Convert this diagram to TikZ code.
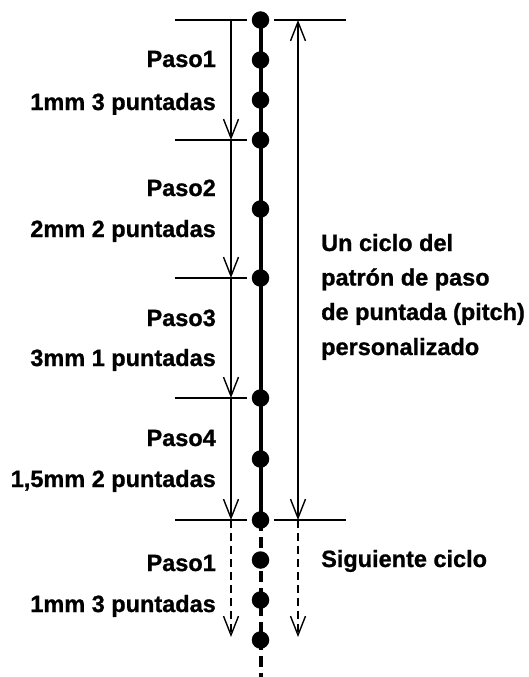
\documentclass[tikz,border=0pt]{standalone}
\usepackage{fontspec}
\setmainfont{Liberation Sans}
\newfontfamily\lblfont{Liberation Sans Bold}[FakeBold=1]
\usetikzlibrary{arrows.meta}
\begin{document}
\begin{tikzpicture}[x=1pt,y=-1pt,
  dot/.style={circle,fill=black,inner sep=0pt,minimum size=17.5pt},
  lbl/.style={font=\lblfont\fontsize{23.5}{28}\selectfont,inner sep=0pt},
  thinline/.style={line width=1.4pt},
  stem/.style={line width=4pt},
  tipend/.style={-{Straight Barb[length=19pt,width=15pt]}},
  tipboth/.style={{Straight Barb[length=19pt,width=15pt]}-{Straight Barb[length=19pt,width=15pt]}},
  thindash/.style={dash pattern=on 8pt off 5pt},
  stemdash/.style={dash pattern=on 11pt off 6pt}]
\useasboundingbox (0,0) rectangle (528,677);
% stitch dots
\foreach \i/\y in {1/20,2/60,3/100,4/140,5/209,6/278,7/398,8/459,9/520,10/560,11/600,12/640}
  \node[dot] (d\i) at (260.5,\y) {};
\coordinate (dend) at (260.5,677);
% main stitch line
\draw[stem] (d1.center) -- (d9.center);
\draw[stem,stemdash] (d9.center) -- (dend);
% boundary ticks
\foreach \k/\y in {1/20,2/140,3/278,4/398,5/520}{
  \coordinate (tl\k) at (175,\y);
  \coordinate (tr\k) at (247,\y);
  \coordinate (a\k) at (231,\y);
  \draw[thinline] (tl\k) -- (tr\k);
}
\coordinate (a6) at (231,637);
\coordinate (ul) at (274,20);
\coordinate (ur) at (346,20);
\coordinate (vl) at (274,520);
\coordinate (vr) at (346,520);
\coordinate (b1) at (298,20);
\coordinate (b2) at (298,520);
\coordinate (b3) at (298,637);
\draw[thinline] (ul) -- (ur);
\draw[thinline] (vl) -- (vr);
% step arrows
\draw[thinline,tipend] (a1) -- (a2);
\draw[thinline,tipend] (a2) -- (a3);
\draw[thinline,tipend] (a3) -- (a4);
\draw[thinline,tipend] (a4) -- (a5);
\draw[thinline,tipend,thindash] (a5) -- (a6);
% cycle arrows
\draw[thinline,tipboth] (b1) -- (b2);
\draw[thinline,tipend,thindash] (b2) -- (b3);
% left labels
\node[lbl,anchor=base east] (s1a) at (216,67) {Paso1};
\node[lbl,anchor=base east] (s1b) at (216,110) {1mm 3 puntadas};
\node[lbl,anchor=base east] (s2a) at (216,196) {Paso2};
\node[lbl,anchor=base east] (s2b) at (216,237) {2mm 2 puntadas};
\node[lbl,anchor=base east] (s3a) at (216,326) {Paso3};
\node[lbl,anchor=base east] (s3b) at (216,366) {3mm 1 puntadas};
\node[lbl,anchor=base east] (s4a) at (216,446) {Paso4};
\node[lbl,anchor=base east] (s4b) at (216,487) {1,5mm 2 puntadas};
\node[lbl,anchor=base east] (s5a) at (216,571) {Paso1};
\node[lbl,anchor=base east] (s5b) at (216,612) {1mm 3 puntadas};
% right labels
\node[lbl,anchor=base west] (c1) at (321,251) {Un ciclo del};
\node[lbl,anchor=base west] (c2) at (321,285.5) {patrón de paso};
\node[lbl,anchor=base west] (c3) at (321,320) {de puntada (pitch)};
\node[lbl,anchor=base west] (c4) at (321,355) {personalizado};
\node[lbl,anchor=base west] (nx) at (321,567) {Siguiente ciclo};
\end{tikzpicture}
\end{document}
